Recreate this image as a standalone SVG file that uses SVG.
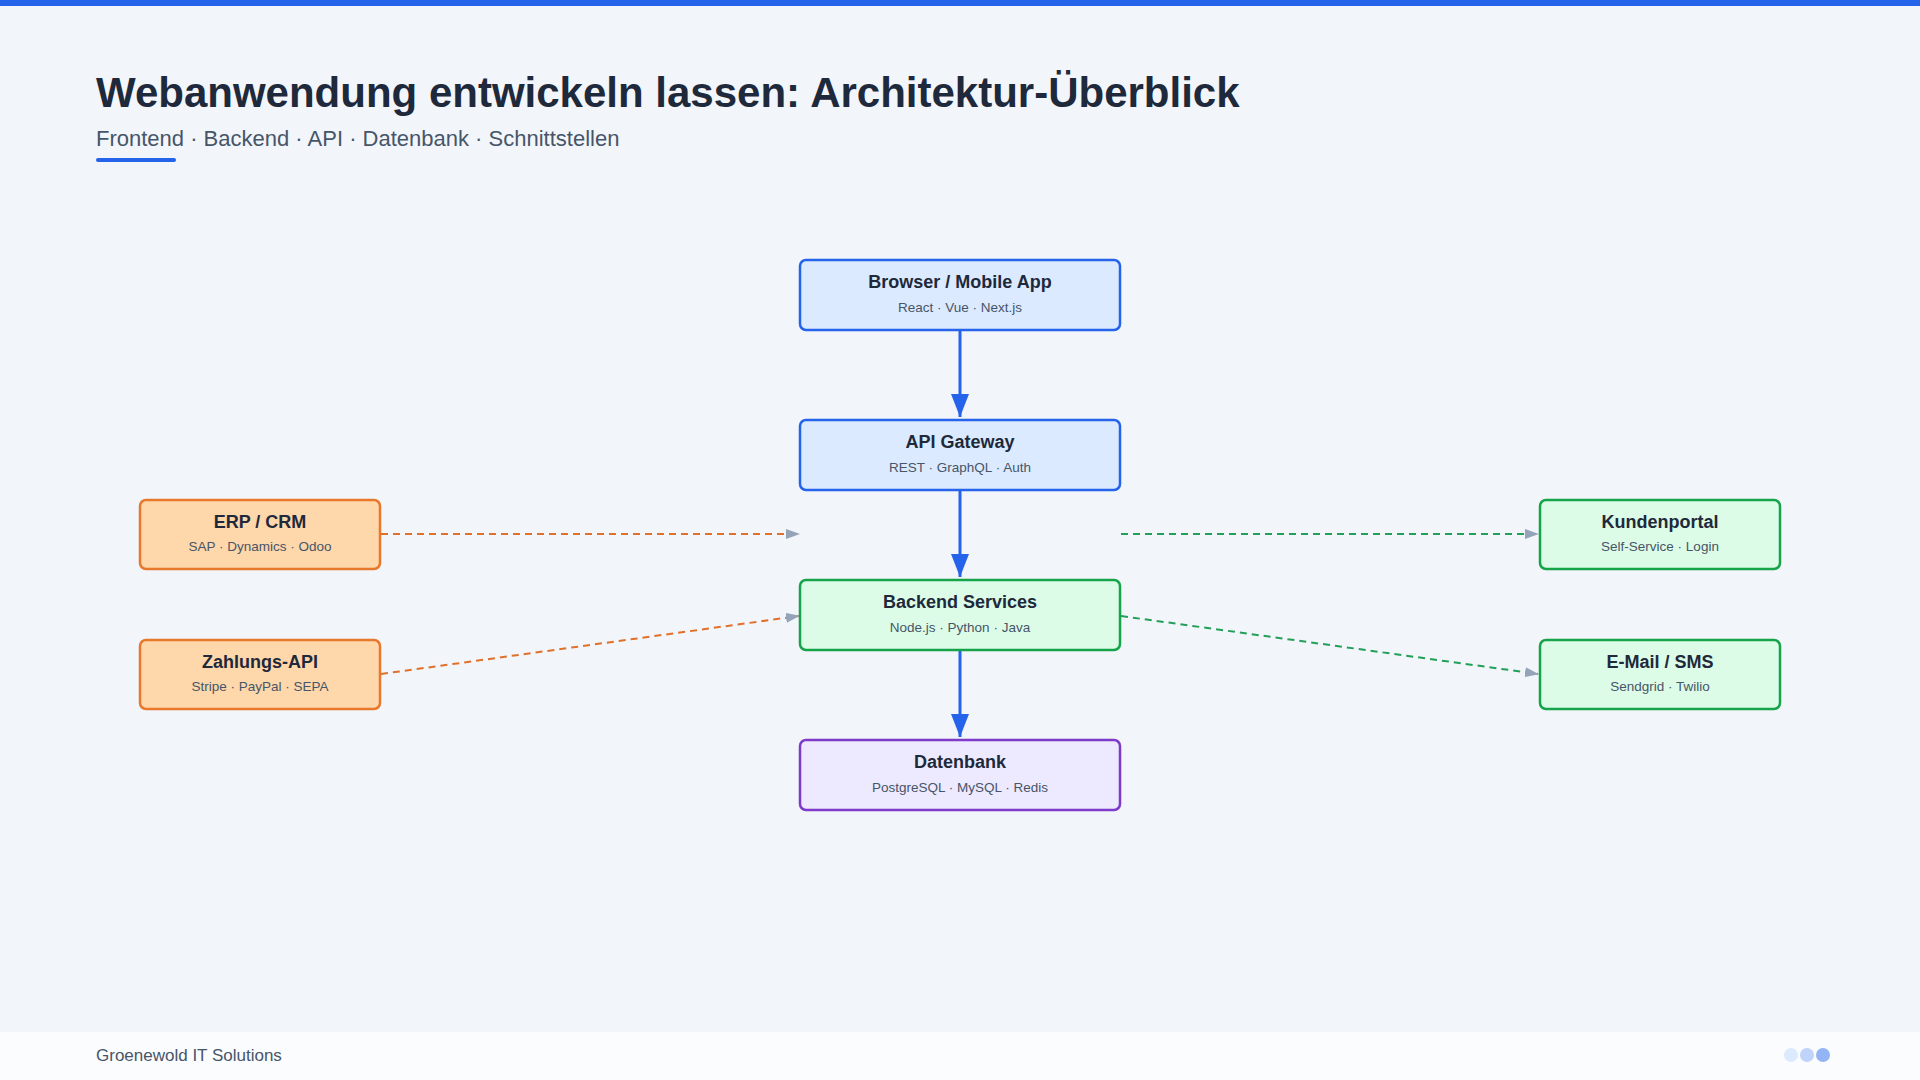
<svg xmlns="http://www.w3.org/2000/svg" width="1920" height="1080" viewBox="0 0 1920 1080">
<style>
text{font-family:"Liberation Sans",Arial,sans-serif}
.t{font-size:18px;font-weight:bold;fill:#1e293b;text-anchor:middle}
.s{font-size:13.5px;fill:#475569;text-anchor:middle}
.blue{fill:#dbeafe;stroke:#2563eb;stroke-width:2.5}
.green{fill:#dcfce7;stroke:#16a34a;stroke-width:2.5}
.orange{fill:#fed7aa;stroke:#e8792c;stroke-width:2.5}
.purple{fill:#ede9fe;stroke:#7e3bc9;stroke-width:2.5}
.solid{stroke:#2563eb;stroke-width:3;fill:none;marker-end:url(#ab)}
.do{stroke:#e0702a;stroke-width:2;stroke-dasharray:7 5;fill:none;marker-end:url(#ag)}
.dg{stroke:#22a05a;stroke-width:2;stroke-dasharray:7 5;fill:none;marker-end:url(#ag)}
</style>
<defs>
<marker id="ab" markerWidth="10" markerHeight="12" refX="9" refY="6" orient="auto" markerUnits="userSpaceOnUse" viewBox="0 0 10 12"><path d="M0,0 L10,6 L0,12 z" fill="#2563eb"/></marker>
<marker id="ag" markerWidth="14" markerHeight="10" refX="13" refY="5" orient="auto" markerUnits="userSpaceOnUse"><path d="M0,0 L14,5 L0,10 z" fill="#94a3b8"/></marker>
</defs>
<rect width="1920" height="1080" fill="#f2f5f9"/>
<rect width="1920" height="6" fill="#2563eb"/>
<text x="96" y="107" font-size="42" font-weight="bold" fill="#1e293b">Webanwendung entwickeln lassen: Architektur-Überblick</text>
<text x="96" y="146" font-size="22" fill="#475569">Frontend · Backend · API · Datenbank · Schnittstellen</text>
<rect x="96" y="158" width="80" height="4" rx="2" fill="#2563eb"/>
<g id="connectors">
<path class="solid" d="M960,330 V417" style="marker-end:none"/>
<path d="M951,394 L960,417 L969,394 z" fill="#2563eb"/>
<path class="solid" d="M960,491 V577" style="marker-end:none"/>
<path d="M951,554 L960,577 L969,554 z" fill="#2563eb"/>
<path class="solid" d="M960,651 V737" style="marker-end:none"/>
<path d="M951,714 L960,737 L969,714 z" fill="#2563eb"/>
<path class="do" d="M381,534 H799"/>
<path class="do" d="M381,674 L799,616"/>
<path class="dg" d="M1121,534 H1538"/>
<path class="dg" d="M1121,616 L1538,674"/>
</g>
<g id="browser"><rect class="blue" x="800" y="260" width="320" height="70" rx="6"/><text class="t" x="960" y="288">Browser / Mobile App</text><text class="s" x="960" y="312">React · Vue · Next.js</text></g>
<g id="gateway"><rect class="blue" x="800" y="420" width="320" height="70" rx="6"/><text class="t" x="960" y="448">API Gateway</text><text class="s" x="960" y="472">REST · GraphQL · Auth</text></g>
<g id="backend"><rect class="green" x="800" y="580" width="320" height="70" rx="6"/><text class="t" x="960" y="608">Backend Services</text><text class="s" x="960" y="632">Node.js · Python · Java</text></g>
<g id="datenbank"><rect class="purple" x="800" y="740" width="320" height="70" rx="6"/><text class="t" x="960" y="768">Datenbank</text><text class="s" x="960" y="792">PostgreSQL · MySQL · Redis</text></g>
<g id="erp"><rect class="orange" x="140" y="500" width="240" height="69" rx="6"/><text class="t" x="260" y="528">ERP / CRM</text><text class="s" x="260" y="551">SAP · Dynamics · Odoo</text></g>
<g id="zahlung"><rect class="orange" x="140" y="640" width="240" height="69" rx="6"/><text class="t" x="260" y="668">Zahlungs-API</text><text class="s" x="260" y="691">Stripe · PayPal · SEPA</text></g>
<g id="kundenportal"><rect class="green" x="1540" y="500" width="240" height="69" rx="6"/><text class="t" x="1660" y="528">Kundenportal</text><text class="s" x="1660" y="551">Self-Service · Login</text></g>
<g id="email"><rect class="green" x="1540" y="640" width="240" height="69" rx="6"/><text class="t" x="1660" y="668">E-Mail / SMS</text><text class="s" x="1660" y="691">Sendgrid · Twilio</text></g>
<rect x="0" y="1032" width="1920" height="48" fill="#fbfcfd"/>
<text x="96" y="1061" font-size="17" fill="#475569">Groenewold IT Solutions</text>
<circle cx="1791" cy="1055" r="7" fill="#dbeafe"/>
<circle cx="1807" cy="1055" r="7" fill="#bfd3fb"/>
<circle cx="1823" cy="1055" r="7" fill="#93b4f5"/>
</svg>
